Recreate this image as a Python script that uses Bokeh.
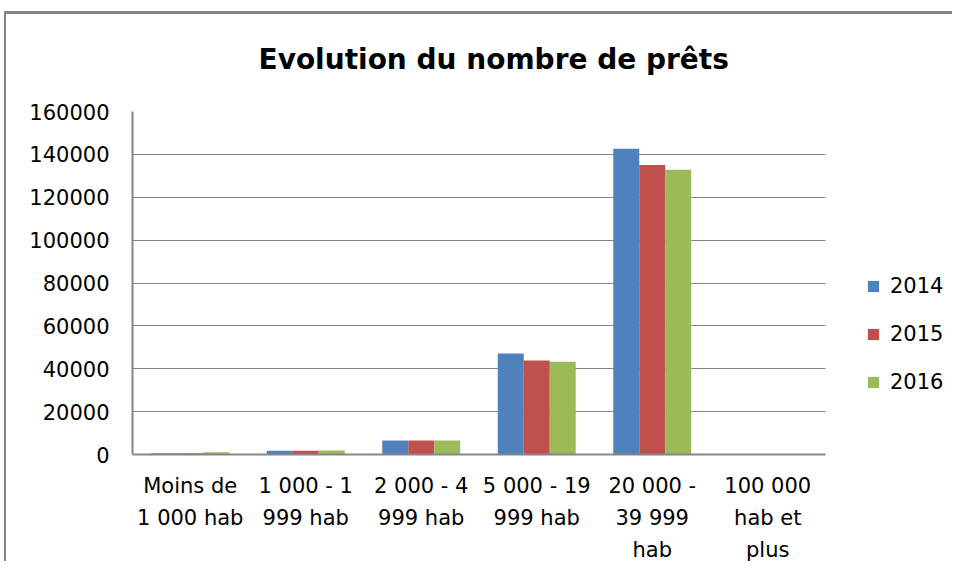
from bokeh.plotting import figure
from bokeh.models import (ColumnDataSource, Range1d, SingleIntervalTicker, FixedTicker,
                          NumeralTickFormatter, Title)
from bokeh.transform import dodge
from bokeh.embed import file_html
from bokeh.resources import INLINE

categories = ["Moins de\n1 000 hab", "1 000 - 1\n999 hab", "2 000 - 4\n999 hab",
              "5 000 - 19\n999 hab", "20 000 -\n39 999\nhab", "100 000\nhab et\nplus"]
years = ["2014", "2015", "2016"]
v2014 = [600, 1800, 6500, 47100, 142600, 0]
v2015 = [600, 1800, 6500, 43800, 135100, 0]
v2016 = [1000, 1900, 6500, 43300, 132800, 0]
colors = ["#4F81BD", "#C0504D", "#9BBB59"]

n = len(categories)
centers = [i + 0.5 for i in range(n)]
bw = 0.225
offs = [-bw, 0, bw]
src = ColumnDataSource(dict(x=centers, y2014=v2014, y2015=v2015, y2016=v2016))

FONT = "DejaVu Sans"
W, H = 948, 550
LEFT, TOP, BOTTOM = 126, 97, 110
PLOT_W = 693  # width of the category area in px
x_end = n * (W - LEFT) / PLOT_W

p = figure(width=W, height=H, x_range=Range1d(0, x_end),
           y_range=Range1d(0, 160000), output_backend="svg", toolbar_location=None,
           min_border_left=LEFT, min_border_right=0, min_border_top=TOP, min_border_bottom=BOTTOM,
           styles={"margin-left": "4px", "margin-top": "11px", "margin-right": "-20px",
                   "padding-right": "2px",
                   "border-top": "3px solid #868686", "border-left": "2px solid #868686"})
p.title = None
# spacer between plot area and title, then the title itself
p.add_layout(Title(text=" ", text_font_size="2px", standoff=32), "above")
p.add_layout(Title(text="Evolution du nombre de prêts", align="left", offset=126,
                   text_font=FONT, text_font_size="28px", text_font_style="bold",
                   text_color="#000000", standoff=0), "above")
p.outline_line_color = None

for yr, col, off in zip(years, colors, offs):
    p.vbar(x=dodge("x", off), top="y" + yr, width=bw, source=src,
           fill_color=col, line_color=None, legend_label=yr)

p.xgrid.grid_line_color = None
p.ygrid.grid_line_color = "#868686"
p.ygrid.grid_line_width = 1
p.ygrid.cross_bounds = (0, n)
p.yaxis.ticker = SingleIntervalTicker(interval=20000)
p.yaxis.formatter = NumeralTickFormatter(format="0")
p.xaxis.ticker = FixedTicker(ticks=centers)
p.xaxis.major_label_overrides = {c: lab for c, lab in zip(centers, categories)}
p.xaxis.bounds = (0, n)
for ax in (p.xaxis[0], p.yaxis[0]):
    ax.axis_line_color = "#868686"
    ax.axis_line_width = 2
    ax.major_tick_line_color = None
    ax.minor_tick_line_color = None
    ax.major_label_text_font = FONT
    ax.major_label_text_font_size = "21px"
    ax.major_label_text_color = "#000000"
p.yaxis.major_label_standoff = 17
p.xaxis.major_label_standoff = 13
p.xaxis.major_label_text_line_height = 1.34
p.xaxis.major_label_orientation = "horizontal"

lg = p.legend[0]
lg.location = (734, 60)
lg.border_line_color = None
lg.background_fill_alpha = 0
lg.padding = 0
lg.margin = 0
lg.spacing = 23
lg.glyph_width = 14
lg.glyph_height = 14
lg.label_height = 25
lg.label_standoff = 10
lg.label_text_font = FONT
lg.label_text_font_size = "21px"
lg.label_text_color = "#000000"

open("out.html", "w").write(file_html(p, INLINE))
